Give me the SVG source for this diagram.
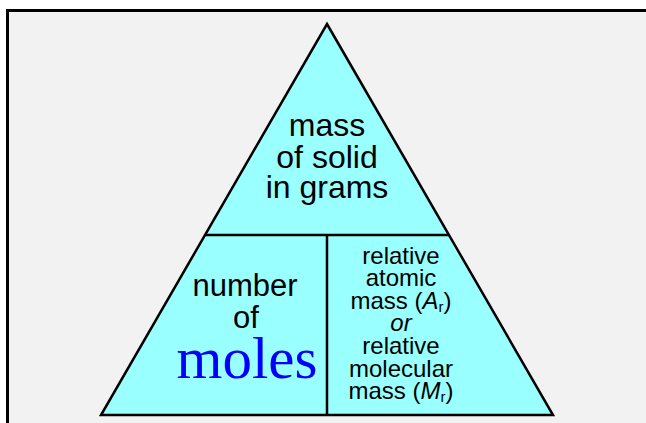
<svg xmlns="http://www.w3.org/2000/svg" width="646" height="423" viewBox="0 0 646 423">
<style>
.s{font-family:"Liberation Sans",Arial,sans-serif;fill:#000;text-anchor:middle}
.ln{stroke:#000;stroke-width:2.5;fill:none}
</style>
<rect width="646" height="423" fill="#fff"/>
<rect x="7.5" y="10.5" width="700" height="500" fill="#f2f2f2" stroke="#000" stroke-width="3"/>
<g id="triangle">
<polygon points="327,24 553,415 101,415" fill="#99ffff" stroke="#000" stroke-width="2.5" stroke-linejoin="miter"/>
</g>
<g id="connectors">
<line class="ln" x1="205" y1="235" x2="449" y2="235"/>
<line class="ln" x1="327" y1="235" x2="327" y2="415"/>
</g>
<g id="mass">
<text class="s" font-size="32"><tspan x="327" y="136">mass</tspan><tspan x="327" y="168">of solid</tspan><tspan x="327" y="198">in grams</tspan></text>
</g>
<g id="moles">
<text class="s" font-size="31"><tspan x="245" y="296">number</tspan><tspan x="246" y="328">of</tspan></text>
<text x="247" y="378" font-family="'Liberation Serif','Times New Roman',serif" font-size="59" fill="#0000ff" text-anchor="middle">moles</text>
</g>
<g id="relmass">
<text class="s" font-size="24"><tspan x="401" y="264">relative</tspan><tspan x="401" y="286">atomic</tspan><tspan x="401" y="309">mass (<tspan font-style="italic">A</tspan><tspan font-size="15" dy="3">r</tspan><tspan dy="-3">)</tspan></tspan><tspan x="401" y="331" font-style="italic">or</tspan><tspan x="401" y="354">relative</tspan><tspan x="401" y="377">molecular</tspan><tspan x="401" y="399">mass (<tspan font-style="italic">M</tspan><tspan font-size="15" dy="3">r</tspan><tspan dy="-3">)</tspan></tspan></text>
</g>
</svg>
